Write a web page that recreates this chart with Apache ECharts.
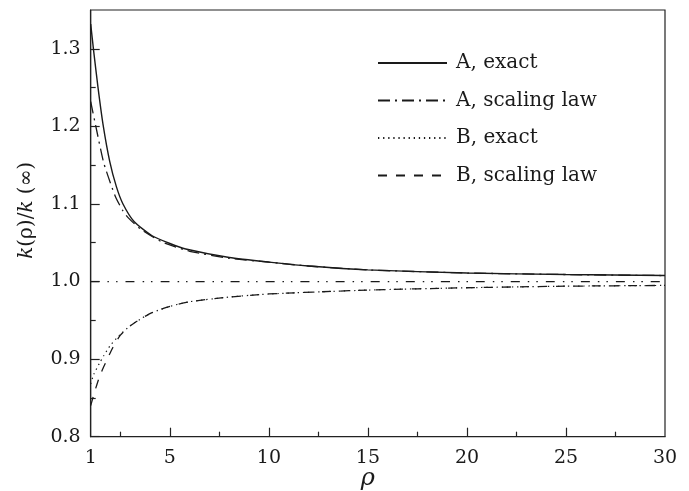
<!DOCTYPE html>
<html>
<head>
<meta charset="utf-8">
<script src="https://cdn.jsdelivr.net/npm/echarts@6/dist/echarts.min.js"></script>
<style>
  html, body { margin: 0; padding: 0; background: #fff; }
  #chart { width: 689px; height: 491px; }
</style>
</head>
<body>
<div id="chart"></div>
<script>
// axis ticks / labels
const xLabels = [1, 5, 10, 15, 20, 25, 30]
const xMajorTicks = [5, 10, 15, 20, 25]
const xMinorTicks = [2.5, 7.5, 12.5, 17.5, 22.5, 27.5]
const yLabels = [0.8, 0.9, 1.0, 1.1, 1.2, 1.3]
const yMinorTicks = [0.85, 0.95, 1.05, 1.15, 1.25]

// A, exact
const aExactRho = [1, 1.15, 1.37, 1.62, 1.96, 2.3, 2.63, 3.2, 4.1, 5, 5.8, 8, 10, 12, 15, 20, 25, 30]
const aExactVal = [1.332, 1.297, 1.25, 1.203, 1.155, 1.122, 1.10, 1.077, 1.059, 1.049, 1.042, 1.031, 1.025, 1.02, 1.015, 1.011, 1.009, 1.0077]
// A, scaling law
const aScaleRho = [1, 1.3, 1.67, 2.24, 2.63, 2.9, 3.5, 4.6, 6, 8, 10, 12, 15, 20, 25, 30]
const aScaleVal = [1.232, 1.195, 1.152, 1.11, 1.091, 1.082, 1.068, 1.051, 1.039, 1.030, 1.025, 1.02, 1.015, 1.011, 1.009, 1.0077]
// B, exact
const bExactRho = [1, 1.15, 1.45, 1.65, 2, 2.5, 3, 3.6, 4.1, 5, 6, 8, 10, 15, 20, 25, 30]
const bExactVal = [0.868, 0.880, 0.895, 0.904, 0.918, 0.932, 0.943, 0.953, 0.960, 0.968, 0.974, 0.980, 0.984, 0.989, 0.992, 0.994, 0.995]
// B, scaling law
const bScaleRho = [1, 1.2, 1.4, 1.6, 1.8, 2.1, 2.5, 3, 3.6, 4.1, 5, 6, 8, 10, 15, 20, 25, 30]
const bScaleVal = [0.84, 0.858, 0.874, 0.887, 0.898, 0.914, 0.931, 0.943, 0.953, 0.960, 0.968, 0.974, 0.980, 0.984, 0.989, 0.992, 0.994, 0.995]
// reference line at 1
const refRho = [1, 30]
const refVal = [1, 1]

const pairs = (xs, ys) => xs.map((x, i) => [x, ys[i]])

const FONT = 'DejaVu Serif'
const INK = '#1a1a1a'

const chart = echarts.init(document.getElementById('chart'))

const lineSeries = (name, xs, ys, dash, width) => ({
  name: name,
  type: 'line',
  data: pairs(xs, ys),
  symbol: 'none',
  smooth: 0.2,
  silent: true,
  lineStyle: { color: INK, width: width, type: dash, cap: 'butt' },
  itemStyle: { color: INK }
})

const option = {
  animation: false,
  grid: {
    left: 90.7, right: 24, top: 10, bottom: 54.3,
    outerBoundsMode: 'none',
    containLabel: false,
    show: true, borderColor: '#222', borderWidth: 1.2,
    backgroundColor: 'transparent'
  },
  legend: {
    data: ['A, exact', 'A, scaling law', 'B, exact', 'B, scaling law'],
    orient: 'vertical',
    left: 372,
    top: 48,
    itemWidth: 69,
    itemHeight: 20,
    itemGap: 17.5,
    itemStyle: { opacity: 0 },
    textStyle: { fontFamily: FONT, fontSize: 20, color: INK, padding: [0, 0, 0, 4] },
    selectedMode: false
  },
  xAxis: [{
    type: 'value',
    min: 1, max: 30,
    name: 'ρ',
    nameLocation: 'middle',
    nameGap: 30,
    nameMoveOverlap: false,
    nameTextStyle: { fontFamily: FONT, fontStyle: 'italic', fontSize: 24, color: INK, padding: [0, 20, 0, 0] },
    axisLine: { lineStyle: { color: '#222', width: 1.2 } },
    axisTick: { customValues: xMajorTicks, inside: true, length: 9, lineStyle: { color: '#222', width: 1.2 } },
    axisLabel: { customValues: xLabels, margin: 12, fontFamily: FONT, fontSize: 19, color: INK },
    splitLine: { show: false }
  }, {
    type: 'value',
    min: 1, max: 30,
    position: 'bottom',
    axisLine: { show: false },
    axisTick: { customValues: xMinorTicks, inside: true, length: 5, lineStyle: { color: '#222', width: 1.2 } },
    axisLabel: { show: false },
    splitLine: { show: false }
  }],
  yAxis: [{
    type: 'value',
    min: 0.8, max: 1.35,
    name: '{i|k}(ρ)/{i|k} (∞)',
    nameLocation: 'middle',
    nameRotate: 90,
    nameGap: 54,
    nameMoveOverlap: false,
    nameTextStyle: {
      fontFamily: FONT, fontSize: 20, color: INK, padding: [0, 0, 0, 26],
      rich: { i: { fontFamily: FONT, fontStyle: 'italic', fontSize: 20, color: INK } }
    },
    axisLine: { lineStyle: { color: '#222', width: 1.2 } },
    axisTick: { customValues: yLabels, inside: true, length: 9, lineStyle: { color: '#222', width: 1.2 } },
    axisLabel: {
      customValues: yLabels, margin: 10, fontFamily: FONT, fontSize: 19, color: INK,
      formatter: v => v.toFixed(1)
    },
    splitLine: { show: false }
  }, {
    type: 'value',
    min: 0.8, max: 1.35,
    position: 'left',
    axisLine: { show: false },
    axisTick: { customValues: yMinorTicks, inside: true, length: 5, lineStyle: { color: '#222', width: 1.2 } },
    axisLabel: { show: false },
    splitLine: { show: false }
  }],
  series: [
    lineSeries('A, exact', aExactRho, aExactVal, 'solid', 1.4),
    lineSeries('A, scaling law', aScaleRho, aScaleVal, [12, 5, 2, 5], 1.3),
    lineSeries('B, exact', bExactRho, bExactVal, [1.3, 3.8], 1.2),
    lineSeries('B, scaling law', bScaleRho, bScaleVal, [9, 9], 1.3),
    lineSeries('', refRho, refVal, [9, 8, 1.5, 7, 1.5, 8], 1.3)
  ]
}

chart.setOption(option)
</script>
</body>
</html>
